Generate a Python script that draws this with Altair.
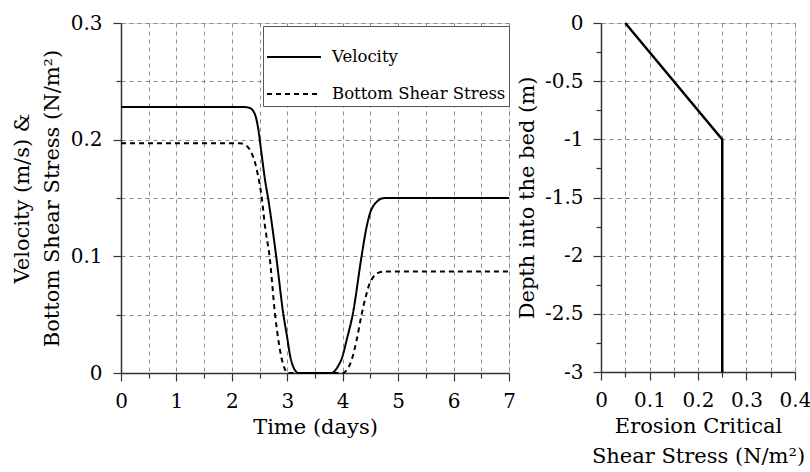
import altair as alt
import pandas as pd

# ---- Left panel data ----
time_v = [0, 2.2, 2.3, 2.38, 2.44, 2.49, 2.53, 2.6, 2.66, 2.75, 2.8, 2.93, 3.0, 3.05, 3.12, 3.2,
          3.8, 3.86, 3.93, 3.98, 4.08, 4.18, 4.34, 4.43, 4.5, 4.55, 4.62, 4.7, 4.78, 7]
velocity = [0.228, 0.228, 0.2275, 0.225, 0.218, 0.205, 0.19, 0.165, 0.148, 0.118, 0.1, 0.05, 0.03, 0.015, 0.004, 0.0,
            0.0, 0.002, 0.007, 0.012, 0.03, 0.05, 0.1, 0.125, 0.138, 0.143, 0.147, 0.1495, 0.15, 0.15]

time_s = [0, 2.15, 2.22, 2.3, 2.36, 2.42, 2.46, 2.54, 2.6, 2.68, 2.78, 2.85, 2.9, 2.95, 3.0,
          4.0, 4.08, 4.16, 4.25, 4.34, 4.43, 4.48, 4.52, 4.58, 4.65, 4.78, 7]
shear = [0.197, 0.197, 0.196, 0.193, 0.188, 0.18, 0.172, 0.15, 0.125, 0.1, 0.05, 0.025, 0.012, 0.004, 0.0,
         0.0, 0.003, 0.011, 0.028, 0.05, 0.068, 0.076, 0.080, 0.084, 0.086, 0.087, 0.087]

series_names = ["Velocity", "Bottom Shear Stress"]

# ---- Right panel data ----
crit_stress = [0.05, 0.25, 0.25]
depth = [0, -1, -3]

# ---- Tick values ----
left_x_ticks = [0, 0.5, 1, 1.5, 2, 2.5, 3, 3.5, 4, 4.5, 5, 5.5, 6, 6.5, 7]
left_y_ticks = [0, 0.05, 0.1, 0.15, 0.2, 0.25, 0.3]
right_x_ticks = [0, 0.05, 0.1, 0.15, 0.2, 0.25, 0.3, 0.35, 0.4]
right_y_ticks = [0, -0.25, -0.5, -0.75, -1, -1.25, -1.5, -1.75, -2, -2.25, -2.5, -2.75, -3]

FONT = "DejaVu Serif"

df_left = pd.concat([
    pd.DataFrame({"t": time_v, "val": velocity, "series": series_names[0]}),
    pd.DataFrame({"t": time_s, "val": shear, "series": series_names[1]}),
], ignore_index=True)

df_right = pd.DataFrame({"tau": crit_stress, "depth": depth, "idx": list(range(len(depth)))})

is_tenth = "abs(datum.value*10 - round(datum.value*10)) < 1e-6"
is_int = "abs(datum.value - round(datum.value)) < 1e-6"
is_half = "abs(datum.value*2 - round(datum.value*2)) < 1e-6"

def lab(test):
    return f"({test}) ? ((datum.value < 0 ? '-' : '') + format(abs(datum.value), '.1~f')) : ''"

common_axis = dict(
    labelFont=FONT, labelFontSize=20, labelColor="black", labelOverlap=False, labelFlush=False,
    titleFont=FONT, titleFontSize=21, titleColor="black", titleFontWeight="normal", titleLimit=1000,
    gridColor="#8a8a8a", gridDash=[4, 4], gridWidth=1,
    domainColor="#333333", domainWidth=1.5,
    tickColor="#333333", tickWidth=1.2,
)

left_x_axis = alt.Axis(
    values=left_x_ticks, title="Time (days)", labelExpr=lab(is_int),
    tickSize={"condition": {"test": is_int, "value": 8}, "value": 5},
    labelPadding=10, titlePadding=5, **common_axis)
left_y_axis = alt.Axis(
    values=left_y_ticks, title=["Velocity (m/s) &", "Bottom Shear Stress (N/m²)"],
    labelExpr=lab(is_tenth),
    tickSize={"condition": {"test": is_tenth, "value": 8}, "value": 5},
    labelPadding=11, titlePadding=8, titleLineHeight=30, **common_axis)

left = alt.Chart(df_left).mark_line(color="black", strokeWidth=2, interpolate="monotone").encode(
    x=alt.X("t:Q", scale=alt.Scale(domain=[0, 7], nice=False, zero=False), axis=left_x_axis),
    y=alt.Y("val:Q", scale=alt.Scale(domain=[0, 0.3], nice=False), axis=left_y_axis),
    strokeDash=alt.StrokeDash(
        "series:N",
        scale=alt.Scale(domain=series_names, range=[[1, 0], [5, 4]]),
        legend=alt.Legend(
            title=None, orient="none", legendX=142, legendY=3,
            symbolType="stroke", symbolSize=2916, symbolStrokeWidth=2,
            symbolStrokeColor="black",
            labelFont=FONT, labelFontSize=16.5, labelColor="black", labelOffset=10, labelLimit=400,
            fillColor="white", strokeColor="#555555", padding=3, rowPadding=-31,
        ),
    ),
).properties(width=388, height=350)

right_x_axis = alt.Axis(
    values=right_x_ticks, title=["Erosion Critical", "Shear Stress (N/m²)"],
    labelExpr=lab(is_tenth),
    tickSize={"condition": {"test": is_tenth, "value": 8}, "value": 5},
    labelPadding=10, titlePadding=5, titleLineHeight=30, **common_axis)
right_y_axis = alt.Axis(
    values=right_y_ticks, title="Depth into the bed (m)", labelExpr=lab(is_half),
    tickSize={"condition": {"test": is_half, "value": 8}, "value": 5},
    gridOpacity={"condition": {"test": is_half, "value": 1}, "value": 0},
    labelPadding=10, titlePadding=7, **common_axis)

right = alt.Chart(df_right).mark_line(color="black", strokeWidth=2.5).encode(
    x=alt.X("tau:Q", scale=alt.Scale(domain=[0, 0.4], nice=False), axis=right_x_axis),
    y=alt.Y("depth:Q", scale=alt.Scale(domain=[-3, 0], nice=False), axis=right_y_axis),
    order="idx:O",
).properties(width=194, height=349)

chart = alt.hconcat(left, right, spacing=92, bounds="flush").properties(
    autosize=alt.AutoSizeParams(type="none"),
    padding={"left": 121, "top": 23, "right": 689, "bottom": 449},
).configure_view(stroke="#444444", strokeWidth=1.5).configure(background="white", font=FONT)

chart.save("out.html", embed_options={"renderer": "svg", "actions": False})
